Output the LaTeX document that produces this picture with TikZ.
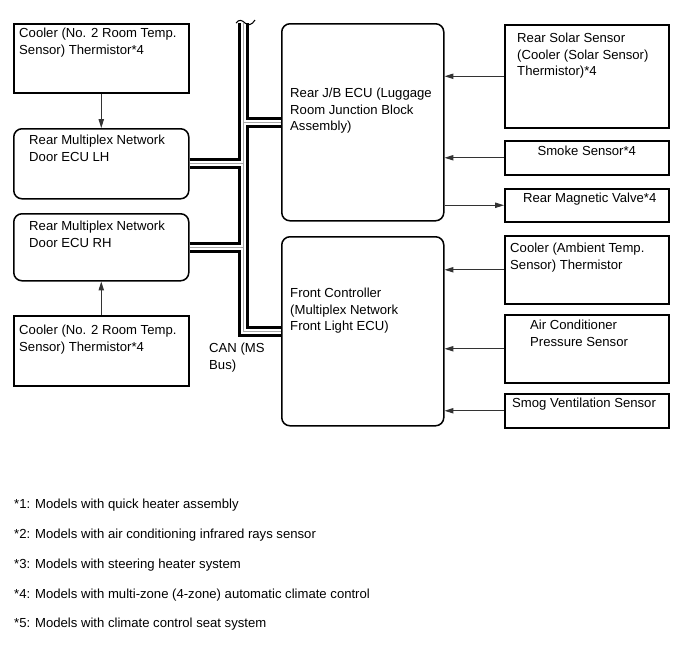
\documentclass[tikz,border=0pt]{standalone}
\usepackage{fontspec}
\setmainfont{Liberation Sans}
\usepackage{tikz}
\usetikzlibrary{arrows.meta,positioning,calc}
\tikzset{
  ecu/.style={draw, line width=1.3pt, rounded corners=7pt, inner sep=0pt, anchor=north west},
  part/.style={draw, line width=1.3pt, inner sep=0pt, anchor=north west},
  txt/.style={inner sep=0pt, anchor=north west, align=left, font=\fontsize{11.2}{14}\selectfont},
  sig/.style={-{Triangle[length=7.5pt,width=4.5pt]}, black!80, line width=0.8pt},
}

\begin{document}
\begin{tikzpicture}[x=0.03cm,y=-0.03cm]
    \useasboundingbox (0,0) rectangle (690,659);
    % left side: door ECUs and room sensors
    \node[part, minimum width=5.25cm, minimum height=2.07cm] (lhtherm) at (13,23) {};
    \node[txt] (lhtherm-t) at ([shift={(6,5)}]lhtherm.north west) {Cooler (No. 2 Room Temp.\\Sensor) Thermistor*4};
    \node[ecu, minimum width=5.25cm, minimum height=2.1cm] (lhdoor) at (13,128) {};
    \node[txt] (lhdoor-t) at ([shift={(16,7)}]lhdoor.north west) {Rear Multiplex Network\\Door ECU LH};
    \node[ecu, minimum width=5.25cm, minimum height=2.01cm] (rhdoor) at (13,213) {};
    \node[txt] (rhdoor-t) at ([shift={(16,8)}]rhdoor.north west) {Rear Multiplex Network\\Door ECU RH};
    \node[part, minimum width=5.25cm, minimum height=2.1cm] (rhtherm) at (13,315) {};
    \node[txt] (rhtherm-t) at ([shift={(6,10)}]rhtherm.north west) {Cooler (No. 2 Room Temp.\\Sensor) Thermistor*4};
    % middle: J/B ECU and front controller
    \node[ecu, minimum width=4.86cm, minimum height=5.91cm] (jbecu) at (281,23) {};
    \node[txt] (jbecu-t) at (290,88) {Rear J/B ECU (Luggage\\Room Junction Block\\Assembly)};
    \node[ecu, minimum width=4.86cm, minimum height=5.67cm] (frontctl) at (281,236) {};
    \node[txt] (frontctl-t) at (290,288) {Front Controller\\(Multiplex Network\\Front Light ECU)};
    % right side: sensors and valve
    \node[part, minimum width=4.92cm, minimum height=3.09cm] (solar) at (504,24) {};
    \node[txt] (solar-t) at (517,33) {Rear Solar Sensor\\(Cooler (Solar Sensor)\\Thermistor)*4};
    \node[part, minimum width=4.92cm, minimum height=1.02cm] (smoke) at (504,140) {};
    \node[txt, anchor=north] (smoke-t) at ([shift={(0,6)}]smoke.north) {Smoke Sensor*4};
    \node[part, minimum width=4.92cm, minimum height=0.99cm] (valve) at (504,188) {};
    \node[txt, anchor=north] (valve-t) at ([shift={(3,5)}]valve.north) {Rear Magnetic Valve*4};
    \node[part, minimum width=4.92cm, minimum height=2.04cm] (ambient) at (504,235) {};
    \node[txt] (ambient-t) at (510,243) {Cooler (Ambient Temp.\\Sensor) Thermistor};
    \node[part, minimum width=4.92cm, minimum height=2.04cm] (acpress) at (504,314) {};
    \node[txt] (acpress-t) at (530,320) {Air Conditioner\\Pressure Sensor};
    \node[part, minimum width=4.92cm, minimum height=1.02cm] (smog) at (504,393) {};
    \node[txt] (smog-t) at (512,398) {Smog Ventilation Sensor};
    % CAN bus (twisted pair)
    \coordinate (bustop) at (243.5,23);
    \foreach \w/\c in {9.5pt/black, 4.3pt/white, 0.5pt/black!35} {
      \draw[line width=\w, draw=\c] (bustop) |- (frontctl.west);
      \draw[line width=\w, draw=\c] (lhdoor.east) -- (lhdoor.east -| bustop);
      \draw[line width=\w, draw=\c] (rhdoor.east) -- (rhdoor.east -| bustop);
      \draw[line width=\w, draw=\c] (jbecu.west) -- (jbecu.west -| bustop);
    }
    \draw[line width=0.9pt] (236,23) .. controls (239,19) and (242,20) .. (245,23) .. controls (248,26) and (252,25) .. (255,20);
    \node[txt] (canlbl) at (209,343) {CAN (MS\\Bus)};
    % signal lines
    \draw[sig] (lhtherm) -- (lhdoor);
    \draw[sig] (rhtherm) -- (rhdoor);
    \draw[sig] (solar.west) -- (solar.west -| jbecu.east);
    \draw[sig] (smoke.west) -- (smoke.west -| jbecu.east);
    \draw[sig] (valve.west -| jbecu.east) -- (valve.west);
    \draw[sig] (ambient.west) -- (ambient.west -| frontctl.east);
    \draw[sig] (acpress.west) -- (acpress.west -| frontctl.east);
    \draw[sig] (smog.west) -- (smog.west -| frontctl.east);
    % notes
    \node[txt, anchor=base west] (note1) at (14,508) {*1: Models with quick heater assembly};
    \node[txt, anchor=base west] (note2) at (14,538) {*2: Models with air conditioning infrared rays sensor};
    \node[txt, anchor=base west] (note3) at (14,568) {*3: Models with steering heater system};
    \node[txt, anchor=base west] (note4) at (14,598) {*4: Models with multi-zone (4-zone) automatic climate control};
    \node[txt, anchor=base west] (note5) at (14,627) {*5: Models with climate control seat system};
  \end{tikzpicture}
\end{document}
